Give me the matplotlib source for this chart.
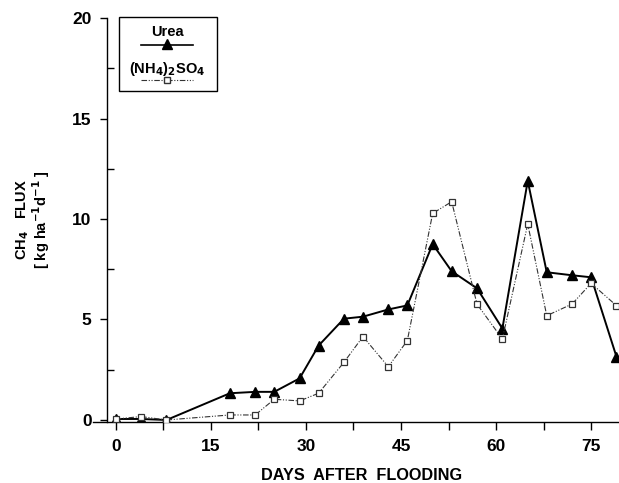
import matplotlib
matplotlib.use("Agg")
import matplotlib.pyplot as plt
from matplotlib.lines import Line2D
from matplotlib.patches import Rectangle

plt.rcParams['font.family'] = ['Liberation Sans', 'DejaVu Sans']
plt.rcParams['font.weight'] = 'bold'
plt.rcParams['mathtext.default'] = 'bf'

days_urea = [0, 4, 8, 18, 22, 25, 29, 32, 36, 39, 43, 46, 50, 53, 57, 61, 65, 68, 72, 75, 79]
urea = [0.05, 0.05, 0.0, 1.33, 1.4, 1.4, 2.07, 3.7, 5.04, 5.14, 5.5, 5.7, 8.75, 7.4, 6.55, 4.55, 11.9, 7.35, 7.2, 7.1, 3.15]

days_as = [0, 4, 8, 18, 22, 25, 29, 32, 36, 39, 43, 46, 50, 53, 57, 61, 65, 68, 72, 75, 79]
amsulf = [0.05, 0.17, 0.0, 0.25, 0.25, 1.03, 0.95, 1.33, 2.87, 4.15, 2.65, 3.95, 10.28, 10.86, 5.76, 4.03, 9.75, 5.19, 5.77, 6.8, 5.69]

xtick_pos = [0, 7.5, 15, 22.5, 30, 37.5, 45, 52.5, 60, 67.5, 75]
xtick_labels = ['0', '', '15', '', '30', '', '45', '', '60', '', '75']
yticks = [0, 5, 10, 15, 20]
yminor = [2.5, 7.5, 12.5, 17.5]

fig = plt.figure(figsize=(6.19, 4.83), dpi=100)
ax = fig.add_axes([0.1502, 0.1263, 0.8498, 0.8364])

dashes = (5, 1.5, 1, 1.5, 1, 1.5)
ax.plot(days_urea, urea, color='black', lw=1.4, marker='^', ms=6.5,
        mfc='black', mec='black', zorder=3)
ax.plot(days_as, amsulf, color='#333333', lw=0.8, dashes=dashes, marker='s', ms=5,
        mfc='white', mec='#333333', mew=0.9, zorder=4)

ax.set_xlim(-3.6, 79.4)
ax.set_ylim(-0.1, 20)
ax.spines['top'].set_visible(False)
ax.spines['right'].set_visible(False)
ax.spines['left'].set_position(('data', -1.4))
ax.spines['left'].set_bounds(-0.1, 20)
for s in ('left', 'bottom'):
    ax.spines[s].set_linewidth(1.0)

ax.set_xticks(xtick_pos)
ax.set_xticklabels(xtick_labels)
ax.tick_params(axis='x', direction='out', length=6, width=1, labelsize=12.5, pad=6)
ax.set_yticks(yticks)
ax.set_yticklabels([str(v) for v in yticks])
ax.set_yticks(yminor, minor=True)
ax.tick_params(axis='y', which='major', direction='out', length=5, width=1, labelsize=12.5, pad=6)
ax.tick_params(axis='y', which='minor', direction='in', length=5, width=1)
for lab in ax.get_xticklabels() + ax.get_yticklabels():
    lab.set_fontweight('bold')

ax.set_xlabel('DAYS  AFTER  FLOODING', fontsize=11.7, fontweight='bold')
ax.xaxis.set_label_coords(0.51, -0.115)
fig.text(0.054, 0.545, 'CH$_4$   FLUX\n[ kg ha$^{-1}$d$^{-1}$ ]', rotation=90,
         ha='center', va='center', fontsize=10.5, fontweight='bold', linespacing=0.95)

# legend box
T = ax.transAxes
def fx(px):
    return (px - 93) / 526.0
def fy(py):
    return (422 - py) / 404.0
ax.add_patch(Rectangle((fx(119), fy(91)), fx(217) - fx(119), fy(17) - fy(91),
                       transform=T, fill=False, ec='black', lw=1.0, zorder=5, clip_on=False))
ax.text(fx(167), fy(32), 'Urea', transform=T, ha='center', va='center', fontsize=10.5, fontweight='bold')
ax.add_line(Line2D([fx(141), fx(193)], [fy(45), fy(45)], transform=T, color='black', lw=1.2))
ax.add_line(Line2D([fx(167)], [fy(44)], transform=T, marker='^', ms=6.5, color='black', ls='none'))
ax.text(fx(167), fy(69), '(NH$_4$)$_2$SO$_4$', transform=T, ha='center', va='center', fontsize=10.5, fontweight='bold')
ax.add_line(Line2D([fx(141), fx(193)], [fy(80), fy(80)], transform=T, color='#333333', lw=0.8, dashes=dashes))
ax.add_line(Line2D([fx(167)], [fy(80)], transform=T, marker='s', ms=5, mfc='white', mec='#333333', ls='none'))

fig.savefig('out.png', dpi=100)
